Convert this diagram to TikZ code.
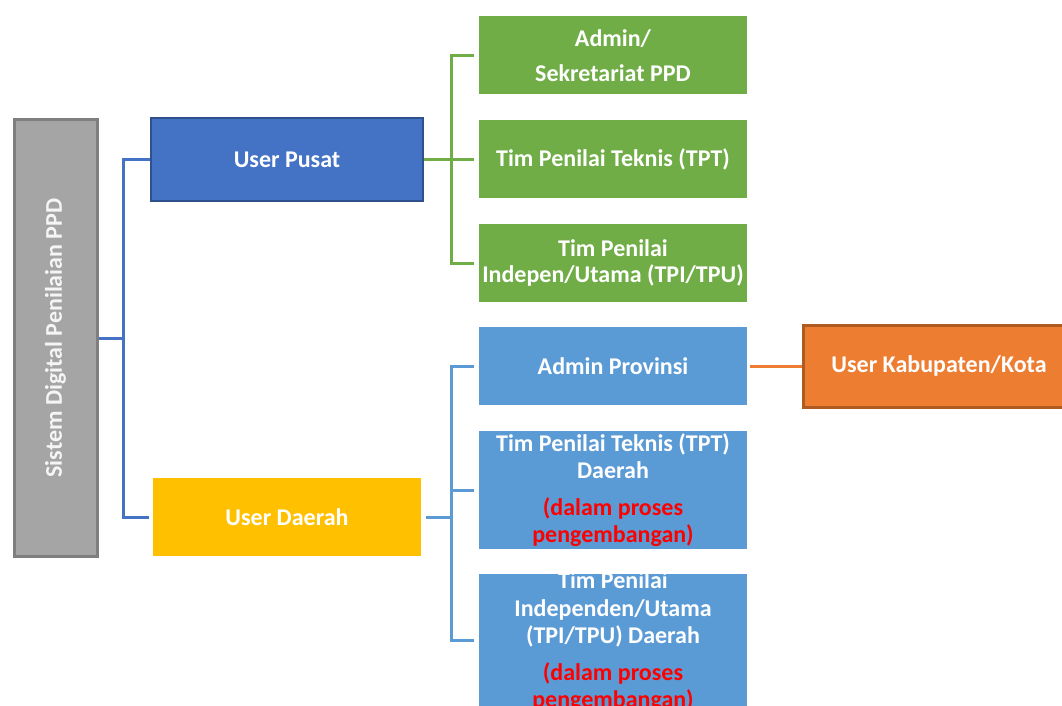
\documentclass[tikz,border=0pt]{standalone}
\usepackage{fontspec}
\setmainfont{Carlito}
\usetikzlibrary{calc}

\definecolor{sysgray}{HTML}{A5A5A5}
\definecolor{sysedge}{HTML}{7F7F7F}
\definecolor{pusatblue}{HTML}{4472C4}
\definecolor{pusatedge}{HTML}{2F528F}
\definecolor{daerahyellow}{HTML}{FFC000}
\definecolor{pusatgreen}{HTML}{70AD47}
\definecolor{daerahblue}{HTML}{5B9BD5}
\definecolor{kotaorange}{HTML}{ED7D31}
\definecolor{kotaedge}{HTML}{AE5A21}

\tikzset{
  box/.style={minimum width=268pt, minimum height=78pt, inner sep=0pt,
    align=center, text=white, font=\bfseries\fontsize{24}{26.5}\selectfont},
  link/.style={line width=3pt}
}

\begin{document}
\begin{tikzpicture}[x=1pt,y=-1pt]
\path[use as bounding box,clip] (0,0) rectangle (1062,706);

% left column
\node[box, fill=sysgray, draw=sysedge, line width=3pt, rotate=90,
  minimum width=436pt, minimum height=83pt, text=white!92!gray] (sistem) at (55.5,338) {Sistem Digital Penilaian PPD};
\node[box, fill=pusatblue, draw=pusatedge, line width=2pt,
  minimum width=272pt, minimum height=83pt] (pusat) at (287,159.5) {User Pusat};
\node[box, fill=daerahyellow] (daerah) at (287,517) {User Daerah};

% user pusat
\node[box, fill=pusatgreen] (admin) at (613,55.5) {Admin/\\[9pt]Sekretariat PPD};
\node[box, fill=pusatgreen] (tpt) at (613,159) {Tim Penilai Teknis (TPT)};
\node[box, fill=pusatgreen] (tpi) at (613,263) {Tim Penilai\\Indepen/Utama (TPI/TPU)};

% user daerah
\node[box, fill=daerahblue] (prov) at (613,366) {Admin Provinsi};
\node[box, fill=daerahblue, minimum height=118pt] (tptd) at (613,490)
  {Tim Penilai Teknis (TPT)\\Daerah\\[11pt]\textcolor{red}{(dalam proses}\\\textcolor{red}{pengembangan)}};
\node[box, fill=daerahblue, minimum height=132pt] (tpid) at (613,640)
  {\raisebox{-9pt}[0pt][0pt]{\begin{tabular}{@{}c@{}}Tim Penilai\\[1pt]Independen/Utama\\[1pt](TPI/TPU) Daerah\\[10pt]
  \textcolor{red}{(dalam proses}\\[1pt]\textcolor{red}{pengembangan)}\end{tabular}}};
\node[box, fill=kotaorange, draw=kotaedge, line width=3pt,
  minimum width=272pt, minimum height=82pt] (kota) at (939,366) {User Kabupaten/Kota};

% connectors
\draw[link, pusatblue] (sistem.south) -- ++(25,0) coordinate (j1);
\draw[link, pusatblue] (j1) |- (pusat.west);
\draw[link, pusatblue, shorten >=4pt] (j1) |- (daerah.west);

\draw[link, pusatgreen] (pusat.east) -- ++(27,0) coordinate (j2);
\foreach \n in {admin,tpt,tpi}
  \draw[link, pusatgreen, shorten >=5pt] (j2) |- (\n.west);

\draw[link, daerahblue, shorten <=5pt] (daerah.east) -- ++(30,0) coordinate (j3);
\foreach \n in {prov,tptd,tpid}
  \draw[link, daerahblue, shorten >=5pt] (j3) |- (\n.west);

\draw[link, kotaorange, shorten <=3pt] (prov.east) -- (kota.west);
\end{tikzpicture}
\end{document}
